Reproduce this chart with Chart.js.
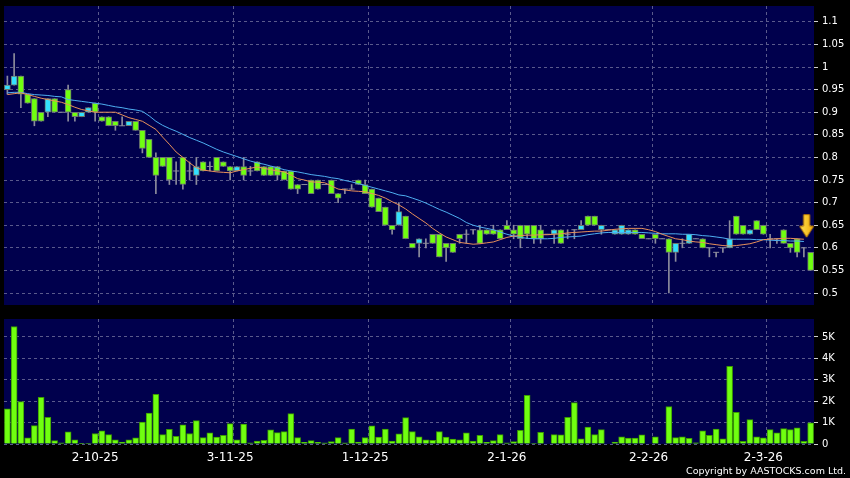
<!DOCTYPE html>
<html>
<head>
<meta charset="utf-8">
<script src="https://cdn.jsdelivr.net/npm/chart.js@4.4.1/dist/chart.umd.min.js"></script>
<style>
  html, body { margin: 0; padding: 0; background: #000; }
  #wrap { position: relative; width: 850px; height: 478px; overflow: hidden; background: #000; }
  #priceChart { position: absolute; left: 0; top: 0; }
  #volChart { position: absolute; left: 0; top: 310px; }
  #copy { position: absolute; right: 4px; top: 465px; color: #fff; font: 9.5px "DejaVu Sans", sans-serif; white-space: nowrap; }
</style>
</head>
<body>
<div id="wrap">
  <canvas id="priceChart" width="850" height="310"></canvas>
  <canvas id="volChart" width="850" height="168"></canvas>
  <div id="copy">Copyright by AASTOCKS.com Ltd.</div>
</div>
<script>
// daily candles, 12-9-25 .. 11-3-26 (120 trading days)
const open = [
  .95,.96,.98,.94,.93,.90,.90,.93,.90,.95,
  .90,.89,.90,.92,.89,.89,.88,.87,.87,.88,
  .86,.84,.80,.80,.80,.77,.80,.77,.76,.79,
  .78,.80,.79,.78,.77,.78,.77,.79,.78,.78,
  .78,.77,.77,.74,.74,.75,.75,.74,.75,.72,
  .73,.73,.75,.74,.73,.71,.69,.65,.65,.67,
  .61,.61,.61,.63,.63,.61,.61,.63,.63,.64,
  .64,.64,.64,.64,.65,.64,.65,.65,.65,.64,
  .63,.63,.64,.63,.64,.64,.67,.67,.64,.64,
  .63,.63,.63,.64,.63,.62,.63,.62,.62,.59,
  .61,.61,.62,.62,.60,.59,.60,.60,.67,.65,
  .63,.66,.65,.62,.62,.64,.61,.62,.60,.59
];
const high = [
  .98,1.03,.98,.94,.93,.90,.93,.93,.90,.96,
  .90,.90,.91,.92,.89,.89,.88,.89,.88,.88,
  .86,.84,.81,.80,.80,.79,.80,.79,.80,.79,
  .79,.80,.79,.78,.78,.80,.78,.79,.78,.78,
  .78,.77,.77,.74,.74,.75,.75,.74,.75,.72,
  .73,.74,.75,.75,.73,.71,.69,.65,.70,.67,
  .61,.62,.62,.63,.63,.61,.61,.63,.64,.64,
  .65,.64,.65,.64,.66,.65,.65,.65,.65,.65,
  .63,.64,.64,.64,.64,.66,.67,.67,.65,.64,
  .64,.65,.64,.64,.63,.62,.63,.62,.62,.61,
  .62,.63,.62,.62,.60,.59,.60,.66,.67,.65,
  .64,.66,.65,.63,.62,.64,.61,.62,.60,.59
];
const low = [
  .94,.96,.91,.92,.87,.88,.89,.90,.90,.88,
  .88,.89,.90,.88,.88,.87,.86,.87,.87,.86,
  .81,.80,.72,.78,.74,.74,.73,.75,.74,.77,
  .77,.77,.78,.75,.77,.75,.76,.77,.76,.76,
  .75,.75,.73,.72,.74,.72,.73,.74,.72,.70,
  .72,.73,.74,.72,.69,.68,.65,.63,.65,.62,
  .60,.58,.60,.61,.58,.57,.59,.61,.61,.63,
  .61,.63,.63,.62,.64,.62,.60,.62,.61,.61,
  .63,.61,.61,.62,.62,.64,.65,.65,.63,.64,
  .63,.63,.63,.63,.62,.62,.61,.62,.50,.57,
  .60,.61,.62,.60,.58,.58,.59,.60,.63,.63,
  .63,.64,.63,.60,.61,.61,.59,.58,.58,.55
];
const close = [
  .96,.98,.94,.92,.88,.88,.93,.90,.90,.90,
  .89,.90,.91,.90,.88,.87,.87,.87,.88,.86,
  .82,.80,.76,.78,.75,.77,.74,.77,.78,.77,
  .78,.77,.78,.77,.78,.76,.77,.77,.76,.76,
  .76,.75,.73,.73,.74,.72,.73,.74,.72,.71,
  .73,.73,.74,.72,.69,.68,.65,.64,.68,.62,
  .60,.62,.61,.61,.58,.60,.59,.62,.63,.64,
  .61,.63,.63,.62,.64,.63,.62,.63,.62,.62,
  .63,.64,.61,.63,.64,.65,.65,.65,.65,.64,
  .64,.65,.64,.63,.62,.62,.62,.62,.59,.61,
  .61,.63,.62,.60,.60,.59,.60,.62,.63,.63,
  .64,.64,.63,.62,.62,.61,.60,.59,.60,.55
];
// volume in thousands
const volume = [
  1.64,5.49,1.98,0.29,0.86,2.18,1.25,0.16,0.05,0.57,
  0.20,0.03,0.02,0.49,0.61,0.44,0.19,0.09,0.20,0.29,
  1.02,1.45,2.32,0.44,0.68,0.36,0.90,0.49,1.09,0.30,
  0.52,0.32,0.40,0.95,0.19,0.93,0.05,0.14,0.17,0.66,
  0.53,0.58,1.42,0.30,0.08,0.16,0.08,0.05,0.11,0.30,
  0.05,0.70,0.09,0.30,0.85,0.32,0.70,0.14,0.47,1.23,
  0.58,0.34,0.20,0.17,0.58,0.32,0.23,0.19,0.52,0.14,
  0.40,0.08,0.16,0.44,0.05,0.11,0.64,2.27,0.02,0.55,
  0,0.44,0.43,1.25,1.93,0.24,0.79,0.44,0.67,0,
  0.09,0.34,0.28,0.28,0.43,0,0.34,0,1.75,0.30,
  0.34,0.26,0.06,0.62,0.40,0.70,0.24,3.63,1.48,0.12,
  1.14,0.34,0.29,0.67,0.52,0.72,0.67,0.75,0.12,0.99
];
// moving averages (10 and 20 day)
const ma10 = [
  .939,.941,.943,.939,.935,.931,.928,.925,.922,.917,
  .911,.906,.903,.900,.900,.900,.900,.894,.888,.884,
  .880,.871,.862,.845,.829,.812,.800,.788,.777,.772,
  .770,.768,.767,.766,.770,.773,.776,.779,.776,.773,
  .770,.768,.761,.753,.750,.746,.745,.744,.737,.730,
  .728,.726,.725,.724,.720,.716,.710,.702,.695,.686,
  .675,.665,.655,.643,.633,.624,.618,.612,.610,.608,
  .609,.611,.613,.618,.623,.626,.627,.628,.628,.629,
  .629,.630,.631,.633,.634,.635,.636,.637,.637,.639,
  .641,.642,.643,.643,.643,.640,.636,.630,.625,.620,
  .618,.615,.613,.612,.609,.607,.605,.604,.605,.607,
  .609,.613,.618,.619,.620,.621,.621,.620,.619,null
];
const ma20 = [
  .943,.944,.944,.941,.939,.938,.937,.935,.934,.928,
  .926,.924,.922,.920,.918,.915,.912,.910,.907,.905,
  .902,.892,.880,.871,.864,.858,.851,.844,.838,.832,
  .825,.818,.812,.807,.802,.797,.792,.788,.785,.781,
  .777,.773,.770,.768,.765,.762,.760,.758,.755,.753,
  .749,.746,.742,.738,.734,.730,.726,.722,.717,.715,
  .710,.705,.699,.692,.685,.679,.672,.665,.656,.650,
  .646,.643,.640,.635,.630,.626,.623,.621,.620,.620,
  .620,.621,.623,.624,.625,.626,.629,.631,.633,.634,
  .634,.634,.634,.634,.634,.633,.632,.631,.631,.631,
  .630,.630,.629,.627,.626,.624,.622,.619,.619,.619,
  .619,.618,.618,.617,.616,.616,.615,.615,.614,null
];
const tickIndex = [13, 33, 53, 74, 95, 112];
const tickLabels = ['2-10-25', '3-11-25', '1-12-25', '2-1-26', '2-2-26', '2-3-26'];
const priceTicks = [0.5, 0.55, 0.6, 0.65, 0.7, 0.75, 0.8, 0.85, 0.9, 0.95, 1, 1.05, 1.1];
const priceMin = 0.4735, priceMax = 1.135;
const volTicks = [0, 1, 2, 3, 4, 5];
const volMax = 5.84;
const arrowLevel = 0.648;

const days = open.map((_, i) => i);
const gridAt = tickIndex.map(i => i + 1);

const navy = '#00004d';
const gridCol = '#5a5a8c';
const upCol = '#33e0ff';
const downCol = '#70ff10';
const edgeCol = '#6c786c';
const wickCol = '#8c8c9c';

Chart.defaults.font.family = '"DejaVu Sans", sans-serif';

const panelBg = {
    id: 'panelBg',
    beforeDraw(chart) {
        const a = chart.chartArea;
        const c = chart.ctx;
        c.save();
        c.fillStyle = navy;
        c.fillRect(a.left, a.top, a.right - a.left, a.bottom - a.top);
        c.restore();
    }
};

function xGridColor(ctx) {
    return gridAt.includes(ctx.index) ? gridCol : 'rgba(0,0,0,0)';
}

// right-hand value axis: fixed width, no edge padding for labels
function fitRightAxis(s) {
    s.width = 36;
    s.paddingTop = 0;
    s.paddingBottom = 0;
}

// yellow arrow marker
const arrowImg = document.createElement('canvas');
arrowImg.width = 24;
arrowImg.height = 26;
(function () {
    const c = arrowImg.getContext('2d');
    const g = c.createLinearGradient(0, 0, 16, 0);
    g.addColorStop(0, '#ffe55a');
    g.addColorStop(1, '#f0a800');
    c.fillStyle = g;
    c.strokeStyle = '#c88400';
    c.lineWidth = 1;
    c.beginPath();
    c.moveTo(5, 1.5); c.lineTo(11, 1.5); c.lineTo(11, 13);
    c.lineTo(15, 13); c.lineTo(8, 24); c.lineTo(1, 13); c.lineTo(5, 13);
    c.closePath();
    c.fill();
    c.stroke();
})();

const bodyData = open.map((o, i) => o === close[i] ? null : [Math.min(o, close[i]), Math.max(o, close[i])]);
const bodyColors = open.map((o, i) => close[i] > o ? upCol : downCol);
const dojiData = open.map((o, i) => o === close[i] ? o : null);
const wickData = low.map((l, i) => [l, high[i]]);
const arrowData = days.map(i => i === days.length - 1 ? arrowLevel : null);

new Chart(document.getElementById('priceChart'), {
    type: 'bar',
    data: {
        labels: days,
        datasets: [
            {
                type: 'line', data: arrowData, showLine: false,
                pointStyle: arrowImg, pointRadius: 10, order: 0
            },
            {
                type: 'line', label: 'MA10', data: ma10, borderColor: '#e8905a',
                borderWidth: 1, pointRadius: 0, tension: 0, order: 1
            },
            {
                type: 'line', label: 'MA20', data: ma20, borderColor: '#4eaef0',
                borderWidth: 1, pointRadius: 0, tension: 0, order: 1
            },
            {
                type: 'line', data: dojiData, showLine: false, pointStyle: 'line',
                pointRadius: 3, borderColor: wickCol, borderWidth: 1, order: 2
            },
            {
                data: bodyData, backgroundColor: bodyColors, borderColor: edgeCol,
                borderWidth: 1, borderSkipped: false, barThickness: 6, grouped: false, order: 3
            },
            {
                data: wickData, backgroundColor: wickCol, borderWidth: 0,
                barThickness: 1, grouped: false, order: 4
            }
        ]
    },
    options: {
        responsive: false,
        devicePixelRatio: 1,
        animation: false,
        layout: { autoPadding: false, padding: { left: 4, top: 6, bottom: 5, right: 0 } },
        plugins: { legend: { display: false }, tooltip: { enabled: false } },
        scales: {
            x: {
                type: 'category', offset: true,
                grid: { offset: true, color: xGridColor, drawTicks: false },
                border: { display: false, dash: [3, 3] },
                ticks: { display: false, autoSkip: false },
                afterFit: s => { s.height = 0; s.paddingLeft = 0; s.paddingRight = 0; }
            },
            y: {
                position: 'right', min: priceMin, max: priceMax,
                afterBuildTicks: s => { s.ticks = priceTicks.map(v => ({ value: v })); },
                afterFit: fitRightAxis,
                grid: { color: gridCol, tickColor: '#d0d0d0', tickLength: 4, tickBorderDash: [] },
                border: { display: false, dash: [3, 3] },
                ticks: { color: '#fff', font: { size: 10 }, padding: 4, callback: v => String(+v.toFixed(2)) }
            }
        }
    },
    plugins: [panelBg]
});

new Chart(document.getElementById('volChart'), {
    type: 'bar',
    data: {
        labels: days,
        datasets: [{
            data: volume, backgroundColor: downCol, borderColor: '#3c9c00',
            borderWidth: 1, barThickness: 6
        }]
    },
    options: {
        responsive: false,
        devicePixelRatio: 1,
        animation: false,
        layout: { autoPadding: false, padding: { left: 4, top: 9, bottom: 0, right: 0 } },
        plugins: { legend: { display: false }, tooltip: { enabled: false } },
        scales: {
            x: {
                type: 'category', offset: true,
                grid: { offset: true, color: xGridColor, drawTicks: false },
                border: { display: false, dash: [3, 3] },
                ticks: {
                    autoSkip: false, maxRotation: 0, color: '#fff', padding: 7,
                    font: { size: 12 },
                    callback: (v, i) => {
                        const k = tickIndex.indexOf(i);
                        return k >= 0 ? tickLabels[k] : '';
                    }
                },
                afterFit: s => { s.height = 34; s.paddingLeft = 0; s.paddingRight = 0; }
            },
            y: {
                position: 'right', min: 0, max: volMax,
                afterBuildTicks: s => { s.ticks = volTicks.map(v => ({ value: v })); },
                afterFit: fitRightAxis,
                grid: { color: gridCol, tickColor: '#d0d0d0', tickLength: 4, tickBorderDash: [] },
                border: { display: false, dash: [3, 3] },
                ticks: { color: '#fff', font: { size: 10 }, padding: 4, callback: v => v === 0 ? '0' : v + 'K' }
            }
        }
    },
    plugins: [panelBg]
});
</script>
</body>
</html>
